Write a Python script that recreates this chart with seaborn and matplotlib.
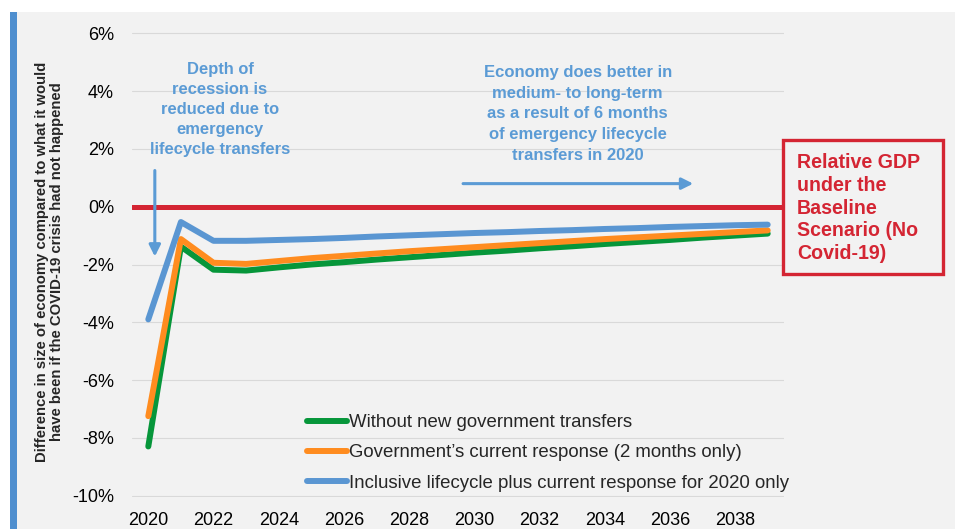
import numpy as np
import pandas as pd
import matplotlib.pyplot as plt
import seaborn as sns
from matplotlib.patches import Rectangle

# Datos (diferencia % del PIB vs. escenario sin Covid)
years = list(range(2020, 2040))
no_transfers = [-8.3, -1.38, -2.18, -2.21, -2.10, -2.00, -1.92, -1.83, -1.75, -1.67,
                -1.59, -1.52, -1.44, -1.37, -1.29, -1.22, -1.15, -1.07, -1.00, -0.93]
current_response = [-7.25, -1.12, -1.94, -1.98, -1.88, -1.78, -1.70, -1.62, -1.54, -1.47,
                    -1.40, -1.33, -1.26, -1.19, -1.12, -1.06, -1.00, -0.94, -0.88, -0.82]
inclusive = [-3.9, -0.53, -1.18, -1.18, -1.15, -1.12, -1.08, -1.03, -0.99, -0.95,
             -0.91, -0.88, -0.84, -0.81, -0.77, -0.74, -0.70, -0.67, -0.64, -0.62]
series_names = ["Without new government transfers",
                "Government\u2019s current response (2 months only)",
                "Inclusive lifecycle plus current response for 2020 only"]
colors = ["#06963a", "#ff8c1f", "#5a96d2"]
y_ticks = list(range(-10, 7, 2))
x_ticks = list(range(2020, 2039, 2))

df = pd.DataFrame({
    "year": years * 3,
    "gap": no_transfers + current_response + inclusive,
    "scenario": np.repeat(series_names, len(years)),
})

bg = "#f2f2f2"
red = "#d42533"
note_blue = "#5b9bd5"

sns.set_style("whitegrid", {"axes.facecolor": bg, "grid.color": "#d9d9d9",
                            "axes.edgecolor": bg})
plt.rcParams['font.family'] = ['Liberation Sans', 'DejaVu Sans']

fig = plt.figure(figsize=(9.55, 5.29), dpi=100, facecolor=bg)

# franja blanca superior/izquierda y barra azul
fig.patches.append(Rectangle((0, 1 - 12 / 529), 1, 12 / 529, transform=fig.transFigure,
                             facecolor="white", edgecolor="none", zorder=-5))
fig.patches.append(Rectangle((0, 0), 10 / 955, 1, transform=fig.transFigure,
                             facecolor="white", edgecolor="none", zorder=-5))
fig.patches.append(Rectangle((10 / 955, 0), 7 / 955, 1 - 12 / 529, transform=fig.transFigure,
                             facecolor="#4f8fcf", edgecolor="none", zorder=-4))

ax = fig.add_axes([132 / 955, 1 - 497 / 529, 652 / 955, 465 / 529])
ax.axhline(0, color=red, lw=3.6, zorder=2)

sns.lineplot(data=df, x="year", y="gap", hue="scenario", hue_order=series_names,
             palette=colors, linewidth=4.3, ax=ax, legend=False, zorder=3)

ax.set_xlim(2019.5, 2039.5)
ax.set_ylim(-10.05, 6.05)
ax.set_xticks(x_ticks)
ax.set_yticks(y_ticks)
ax.set_yticklabels([f"{v}%" for v in y_ticks])
ax.xaxis.grid(False)
ax.set_xlabel("")
ax.set_ylabel("")
ax.tick_params(axis="y", length=0, pad=13, labelsize=13, labelcolor="black")
ax.tick_params(axis="x", length=0, pad=11, labelsize=13, labelcolor="black")
for s in ax.spines.values():
    s.set_visible(False)

fig.text(49.5 / 955, 1 - 262 / 529,
         "Difference in size of economy compared to what it would\n"
         "have been if the COVID-19 crisis had not happened",
         rotation=90, ha="center", va="center", multialignment="center",
         fontsize=10.7, fontweight="bold", linespacing=1.05)

# Anotaciones
ax.text(2022.2, 5.0, "Depth of\nrecession is\nreduced due to\nemergency\nlifecycle transfers",
        ha="center", va="top", color=note_blue, fontsize=11.9, fontweight="bold",
        linespacing=1.42)
ax.annotate("", xy=(2020.2, -1.82), xytext=(2020.2, 1.35),
            arrowprops=dict(arrowstyle="-|>", color=note_blue, lw=2.2, mutation_scale=17))
ax.text(2033.17, 4.9, "Economy does better in\nmedium- to long-term\nas a result of 6 months\n"
        "of emergency lifecycle\ntransfers in 2020",
        ha="center", va="top", color=note_blue, fontsize=12, fontweight="bold",
        linespacing=1.47)
ax.annotate("", xy=(2036.8, 0.8), xytext=(2029.57, 0.8),
            arrowprops=dict(arrowstyle="-|>", color=note_blue, lw=2.2, mutation_scale=17))

# Cuadro del escenario base
fig.patches.append(Rectangle((783 / 955, 1 - 274 / 529), 160 / 955, 134 / 529,
                             transform=fig.transFigure, facecolor=bg, edgecolor=red,
                             lw=2.4, zorder=5))
fig.text(797 / 955, 1 - 153 / 529, "Relative GDP\nunder the\nBaseline\nScenario (No\nCovid-19)",
         ha="left", va="top", color=red, fontsize=14.1, fontweight="bold",
         linespacing=1.25, zorder=6)

handles = [plt.Line2D([0], [0], color=c, lw=4.3, solid_capstyle="round") for c in colors]
ax.legend(handles, series_names, loc="upper left", bbox_to_anchor=(307 / 955, 1 - 414 / 529),
          bbox_transform=fig.transFigure, frameon=False, borderaxespad=0, borderpad=0,
          handlelength=2.15, handletextpad=0.12, labelspacing=0.72, fontsize=13.4)

fig.savefig("out.png", dpi=100, facecolor=bg)
